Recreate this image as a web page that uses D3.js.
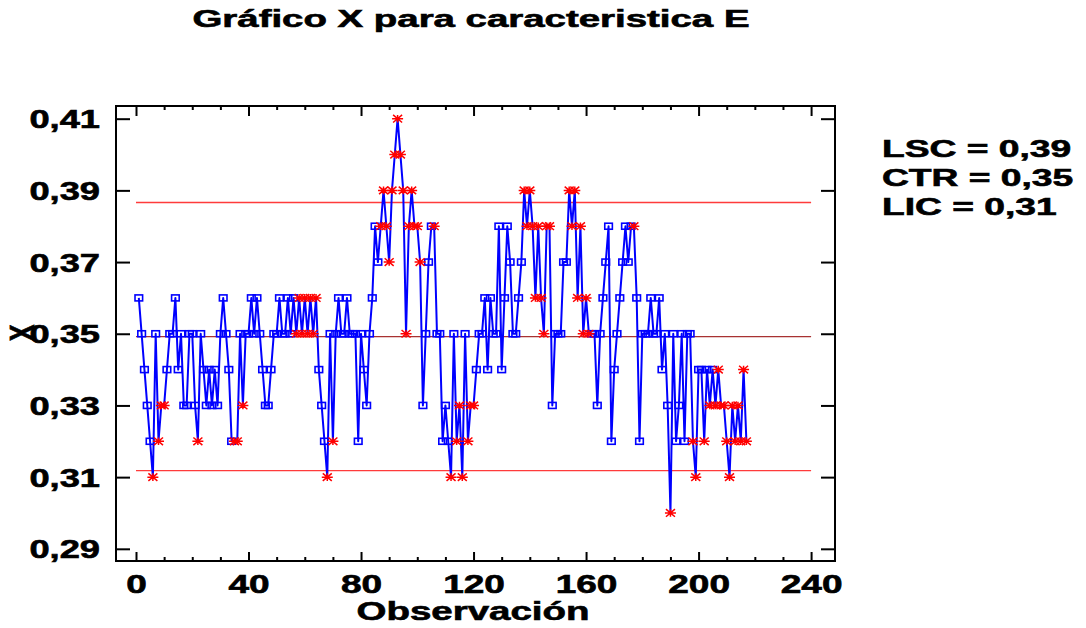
<!DOCTYPE html>
<html>
<head>
<meta charset="utf-8">
<script src="https://cdn.jsdelivr.net/npm/d3@7"></script>
<style>
body { margin: 0; background: #fff; }
text { font-family: "Liberation Sans", Arial, sans-serif; font-weight: bold; fill: #000; stroke: #000; stroke-width: 0.6px; }
</style>
</head>
<body>
<div id="chart"></div>
<script>
// observed values, observation 1..217
var obsValues = [
  0.36, 0.35, 0.34, 0.33, 0.32, 0.31, 0.35, 0.32, 0.33, 0.33,
  0.34, 0.35, 0.35, 0.36, 0.34, 0.35, 0.33, 0.33, 0.35, 0.35,
  0.33, 0.32, 0.35, 0.34, 0.33, 0.34, 0.33, 0.34, 0.33, 0.35,
  0.36, 0.35, 0.34, 0.32, 0.32, 0.32, 0.35, 0.33, 0.35, 0.35,
  0.36, 0.35, 0.36, 0.35, 0.34, 0.33, 0.33, 0.34, 0.35, 0.35,
  0.36, 0.35, 0.35, 0.36, 0.35, 0.36, 0.35, 0.36, 0.35, 0.36,
  0.35, 0.36, 0.35, 0.36, 0.34, 0.33, 0.32, 0.31, 0.35, 0.32,
  0.35, 0.36, 0.35, 0.35, 0.36, 0.35, 0.35, 0.35, 0.32, 0.35,
  0.34, 0.33, 0.35, 0.36, 0.38, 0.37, 0.38, 0.39, 0.38, 0.37,
  0.39, 0.40, 0.41, 0.40, 0.39, 0.35, 0.38, 0.39, 0.38, 0.38,
  0.37, 0.33, 0.35, 0.37, 0.38, 0.38, 0.35, 0.35, 0.32, 0.33,
  0.32, 0.31, 0.35, 0.32, 0.33, 0.31, 0.35, 0.32, 0.33, 0.33,
  0.34, 0.35, 0.35, 0.36, 0.34, 0.36, 0.35, 0.35, 0.38, 0.34,
  0.36, 0.38, 0.37, 0.35, 0.35, 0.36, 0.37, 0.39, 0.38, 0.39,
  0.38, 0.36, 0.38, 0.36, 0.35, 0.38, 0.38, 0.33, 0.35, 0.35,
  0.35, 0.37, 0.37, 0.39, 0.38, 0.39, 0.36, 0.38, 0.35, 0.36,
  0.35, 0.35, 0.35, 0.33, 0.35, 0.36, 0.37, 0.38, 0.32, 0.34,
  0.35, 0.36, 0.37, 0.38, 0.37, 0.38, 0.38, 0.36, 0.32, 0.35,
  0.35, 0.35, 0.36, 0.35, 0.35, 0.36, 0.34, 0.35, 0.33, 0.30,
  0.35, 0.32, 0.33, 0.35, 0.32, 0.35, 0.35, 0.32, 0.31, 0.34,
  0.34, 0.32, 0.34, 0.33, 0.34, 0.33, 0.34, 0.33, 0.33, 0.32,
  0.31, 0.33, 0.32, 0.33, 0.32, 0.34, 0.32
];

// observations drawn with a red asterisk
var starredObs = [6, 8, 9, 10, 22, 35, 36, 38,
  57, 58, 59, 60, 61, 62, 63, 64, 68, 70,
  87, 88, 89, 90, 91, 92, 93, 94, 95, 96, 97, 98, 99, 100, 101, 106,
  112, 114, 115, 116, 118, 119, 120,
  138, 139, 140, 141, 142, 143, 144, 145, 146, 147,
  154, 155, 156, 157, 158, 159, 160, 161, 177, 190,
  198, 199, 202, 204, 206, 207, 208, 209, 210, 211, 212, 213, 214, 215, 216, 217];

var limitNames = ["LSC", "CTR", "LIC"];
var limitValues = [0.3866, 0.3492, 0.3118];

var xTicks = [0, 40, 80, 120, 160, 200, 240];
var xMinorTicks = [10, 20, 30, 50, 60, 70, 90, 100, 110, 130, 140, 150, 170, 180, 190, 210, 220, 230];
var yTicks = [0.29, 0.31, 0.33, 0.35, 0.37, 0.39, 0.41];

var W = 1086, H = 628;
var plotL = 116, plotR = 835, plotT = 106, plotB = 561;

var locale = d3.formatLocale({decimal: ",", thousands: ".", grouping: [3], currency: ["", ""]});
var fmt = locale.format(".2f");

var svg = d3.select("#chart").append("svg")
    .attr("width", W)
    .attr("height", H);

var x = d3.scaleLinear().domain([-7.11, 248.5]).range([plotL, plotR]);
var y = d3.scaleLinear().domain([0.2866, 0.41354]).range([plotB, plotT]);

// widen text like the original (it is stretched sideways)
var stretch = function(sel, factor) {
    sel.each(function() {
        var n = this.getComputedTextLength();
        d3.select(this)
            .attr("textLength", n * factor)
            .attr("lengthAdjust", "spacingAndGlyphs");
    });
}

// control lines
var lineColors = ["#ff3b3b", "#a83232", "#ff3b3b"];
svg.selectAll(".ctl")
    .data(limitValues)
    .enter()
    .append("line")
    .attr("class", "ctl")
    .attr("x1", x(0))
    .attr("x2", x(240))
    .attr("y1", function(d) { return y(d); })
    .attr("y2", function(d) { return y(d); })
    .attr("stroke", function(d, i) { return lineColors[i]; })
    .attr("stroke-width", 1.4);

// axes, ticks pointing inward
var g = svg.append("g");

var bottomAxis = d3.axisBottom(x).tickValues(xTicks).tickSize(-9).tickPadding(14);
var bottomMinor = d3.axisBottom(x).tickValues(xMinorTicks).tickSize(-4).tickFormat("");
var topAxis = d3.axisTop(x).tickValues(xTicks).tickSize(-10).tickFormat("");
var topMinor = d3.axisTop(x).tickValues(xMinorTicks).tickSize(-4).tickFormat("");
var leftAxis = d3.axisLeft(y).tickValues(yTicks).tickSize(-14).tickPadding(16).tickFormat(fmt);
var rightAxis = d3.axisRight(y).tickValues(yTicks).tickSize(-14).tickFormat("");

var xa = g.append("g").attr("transform", "translate(0," + plotB + ")").call(bottomAxis);
g.append("g").attr("transform", "translate(0," + plotB + ")").call(bottomMinor);
g.append("g").attr("transform", "translate(0," + plotT + ")").call(topAxis);
g.append("g").attr("transform", "translate(0," + plotT + ")").call(topMinor);
var ya = g.append("g").attr("transform", "translate(" + plotL + ",0)").call(leftAxis);
g.append("g").attr("transform", "translate(" + plotR + ",0)").call(rightAxis);

g.selectAll(".domain").remove();
g.selectAll(".tick line").attr("stroke", "#000").attr("stroke-width", 2);

xa.selectAll("text")
    .attr("font-size", 25)
    .attr("font-family", "Liberation Sans, Arial, sans-serif")
    .attr("font-weight", "bold")
    .attr("fill", "#000")
    .attr("dy", "0.72em");
stretch(xa.selectAll("text"), 1.48);

ya.selectAll("text")
    .attr("font-size", 25)
    .attr("font-family", "Liberation Sans, Arial, sans-serif")
    .attr("font-weight", "bold")
    .attr("fill", "#000")
    .attr("dy", "0.36em");
stretch(ya.selectAll("text"), 1.45);

// frame
svg.append("rect")
    .attr("x", plotL)
    .attr("y", plotT)
    .attr("width", plotR - plotL)
    .attr("height", plotB - plotT)
    .attr("fill", "none")
    .attr("stroke", "#000")
    .attr("stroke-width", 2);

// data line
var pts = obsValues.map(function(v, i) { return {obs: i + 1, val: v}; });

var path = d3.line()
    .x(function(d) { return x(d.obs); })
    .y(function(d) { return y(d.val); });

svg.append("path")
    .datum(pts)
    .attr("d", path)
    .attr("fill", "none")
    .attr("stroke", "#0000ff")
    .attr("stroke-width", 2)
    .attr("stroke-linejoin", "round");

var isStar = function(d) { return starredObs.indexOf(d.obs) >= 0; };

svg.selectAll(".box")
    .data(pts.filter(function(d) { return !isStar(d); }))
    .enter()
    .append("rect")
    .attr("class", "box")
    .attr("x", function(d) { return x(d.obs) - 3.8; })
    .attr("y", function(d) { return y(d.val) - 3; })
    .attr("width", 7.6)
    .attr("height", 6)
    .attr("fill", "none")
    .attr("stroke", "#0000ff")
    .attr("stroke-width", 1.6);

svg.selectAll(".star")
    .data(pts.filter(isStar))
    .enter()
    .append("path")
    .attr("class", "star")
    .attr("transform", function(d) { return "translate(" + x(d.obs) + "," + y(d.val) + ")"; })
    .attr("d", "M-5.5,0H5.5M-4.5,-3.8L4.5,3.8M-4.5,3.8L4.5,-3.8M0,-3.8V3.8")
    .attr("stroke", "#ff0000")
    .attr("stroke-width", 1.5)
    .attr("fill", "none");

// title and axis titles
var title = svg.append("text")
    .attr("x", 471)
    .attr("y", 27)
    .attr("text-anchor", "middle")
    .attr("font-size", 23)
    .text("Gráfico X para caracteristica E");
title.attr("textLength", 557).attr("lengthAdjust", "spacingAndGlyphs");

var xTitle = svg.append("text")
    .attr("x", 473)
    .attr("y", 620)
    .attr("text-anchor", "middle")
    .attr("font-size", 25)
    .text("Observación");
xTitle.attr("textLength", 233).attr("lengthAdjust", "spacingAndGlyphs");

svg.append("text")
    .attr("transform", "translate(34,333) scale(1.4,1) rotate(-90)")
    .attr("text-anchor", "middle")
    .attr("font-size", 25)
    .text("X");

// limit values on the right
var legend = svg.selectAll(".lim")
    .data(limitNames)
    .enter()
    .append("text")
    .attr("class", "lim")
    .attr("x", 882)
    .attr("y", function(d, i) { return 157 + i * 29; })
    .attr("font-size", 24)
    .text(function(d, i) { return d + " = " + fmt(limitValues[i]); });
stretch(legend, 1.55);
</script>
</body>
</html>
